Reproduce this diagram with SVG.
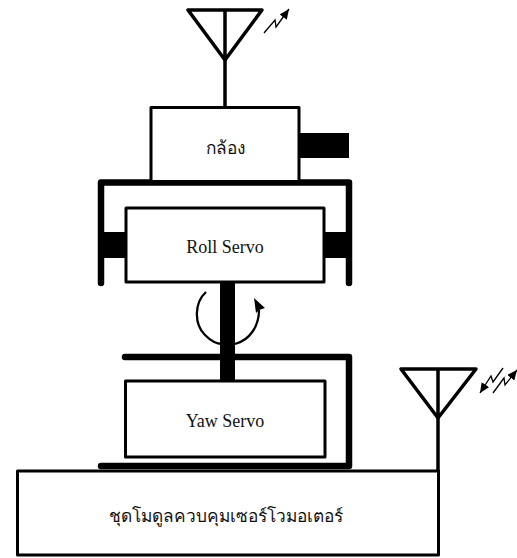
<svg xmlns="http://www.w3.org/2000/svg" width="517" height="558" viewBox="0 0 517 558">
<style>
.b{fill:#fff;stroke:#000;stroke-width:3;stroke-linejoin:round}
.a{fill:none;stroke:#000;stroke-width:3.500;stroke-linejoin:round;stroke-linecap:round}
.f{fill:none;stroke:#000;stroke-width:6.500;stroke-linejoin:round;stroke-linecap:round}
.t{fill:none;stroke:#000;stroke-width:1.300}
.k{fill:#000}
text{font-family:"Liberation Serif","DejaVu Serif","Noto Sans",serif;font-size:18px;fill:#111;text-anchor:middle}
.th{font-size:17.300px}
</style>
<defs>
<marker id="h" markerWidth="10" markerHeight="9" refX="10" refY="4.500" orient="auto" markerUnits="userSpaceOnUse"><path d="M0 0L10 4.500L0 9Z"/></marker>
</defs>
<g id="connectors">
<path class="f" d="M125 357H349V466M101 466H349"/>
<path class="f" d="M101 283V182.500H349V283"/>
<rect class="k" x="220" y="283" width="15" height="98"/>
<path d="M206 292C194 303 194 324 205 335C210 340 216 344 222 344M235 344C250 340 259 326 259 310" fill="none" stroke="#000" stroke-width="2.300"/>
<path class="k" d="M254 298L265 308L259 310L256 313Z"/>
<path d="M225 60V107" class="a"/>
<path d="M438 418V471" class="a"/>
</g>
<g id="antenna-camera">
<path class="a" d="M188 10H262L225 60ZM225 10V60"/>
<path class="t" d="M264 33L275 20L276 27L289 9" marker-end="url(#h)"/>
</g>
<g id="antenna-ground">
<path class="a" d="M401 369H476L438 418ZM438 369V418"/>
<path class="t" d="M503 368L493 382L491 376L480 393" marker-end="url(#h)"/>
<path class="t" d="M493 393L504 378L505 385L517 370" marker-end="url(#h)"/>
</g>
<g id="camera">
<rect class="b" x="151" y="107.500" width="148" height="74"/>
<rect class="k" x="300" y="133" width="49" height="25"/>
<text class="th" x="225" y="154">กล้อง</text>
</g>
<g id="roll-servo">
<rect class="k" x="104" y="232" width="24" height="26"/>
<rect class="k" x="322" y="232" width="24" height="26"/>
<rect class="b" x="126" y="208" width="198" height="74"/>
<text x="225" y="253">Roll Servo</text>
</g>
<g id="yaw-servo">
<rect class="b" x="125.500" y="381" width="199.500" height="76"/>
<text x="225" y="427">Yaw Servo</text>
</g>
<g id="controller">
<rect class="b" x="17.500" y="471" width="421" height="84"/>
<text class="th" x="226" y="522">ชุดโมดูลควบคุมเซอร์โวมอเตอร์</text>
</g>
</svg>
